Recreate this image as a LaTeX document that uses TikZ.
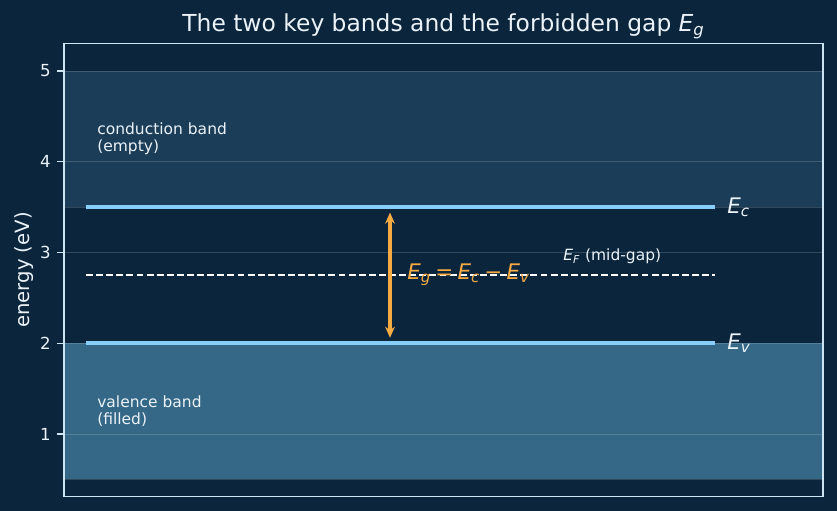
\documentclass[tikz,border=0pt]{standalone}
\usepackage{fontspec}
\setmainfont{DejaVu Sans}
\usetikzlibrary{arrows.meta,positioning}
\definecolor{bgnavy}{RGB}{11,37,61}
\definecolor{cbfill}{RGB}{27,61,88}
\definecolor{vbfill}{RGB}{52,104,134}
\definecolor{levelblue}{RGB}{135,206,250}
\definecolor{gaporange}{RGB}{245,170,66}
\definecolor{framecol}{RGB}{205,228,242}
\definecolor{txtcol}{RGB}{235,242,248}
\newcommand{\en}[1]{\textit{E}\textsubscript{\textit{#1}}}

\begin{document}
\begin{tikzpicture}[x=0.254mm,y=23.05mm,font=\fontsize{11.2}{12.4}\selectfont,
    level/.style={levelblue,line width=2.8pt},
    gridln/.style={white,opacity=0.16,line width=0.7pt},
    lbl/.style={text=txtcol,align=left,inner sep=0pt,anchor=west},
    bigfont/.style={font=\fontsize{15.5}{18}\selectfont}]
  % background and axes box
  \fill[bgnavy] (0,0.1515) rectangle (837,5.7824);
  \useasboundingbox (0,0.1515) rectangle (837,5.7824);
  \fill[cbfill] (64,3.5) rectangle (823,5);
  \fill[vbfill] (64,0.5) rectangle (823,2);
  \foreach \e in {0.5,1,2,3,3.5,4,5}
    \draw[gridln] (64,\e) -- (823,\e);
  % band edges and Fermi level
  \draw[level] (86,3.5) -- (715,3.5);
  \draw[level] (86,2) -- (715,2);
  \draw[white,line width=1.2pt,dash pattern=on 5pt off 2.3pt] (86,2.75) -- (715,2.75);
  \coordinate (vtop) at (390,3.44);
  \coordinate (vbot) at (390,2.06);
  \draw[gaporange,line width=2.2pt,{Stealth[length=8pt,width=7pt]}-{Stealth[length=8pt,width=7pt]}] (vbot) -- (vtop);
  % labels
  \node[lbl] (cb) at (97,4.25) {conduction band\\(empty)};
  \node[lbl] (vb) at (97,1.25) {valence band\\(filled)};
  \node[lbl,bigfont] (ec) at (727,3.5) {\en{c}};
  \node[lbl,bigfont] (ev) at (727,2) {\en{v}};
  \node[lbl] (ef) at (563,2.96) {\en{F} (mid-gap)};
  \node[lbl,bigfont,text=gaporange] (eg) at (407,2.75)
    {\en{g}\hspace{0.2em}=\hspace{0.2em}\en{c}\hspace{0.2em}−\hspace{0.2em}\en{v}};
  % frame, ticks, axis label, title
  \draw[framecol,line width=1.4pt] (64,0.311) rectangle (823,5.303);
  \foreach \e in {1,...,5} {
    \draw[framecol,line width=1pt] (57,\e) -- (64,\e);
    \node[text=txtcol,anchor=east,inner sep=0pt,font=\fontsize{12}{14}\selectfont] (tick\e) at (51,\e) {\e};
  }
  \node[text=txtcol,rotate=90,font=\fontsize{14.2}{17}\selectfont] (ylab) at (24,2.807) {energy (eV)};
  \node[text=txtcol,font=\fontsize{16.9}{20}\selectfont] (title) at (443.5,5.49) {The two key bands and the forbidden gap \en{g}};
\end{tikzpicture}
\end{document}
